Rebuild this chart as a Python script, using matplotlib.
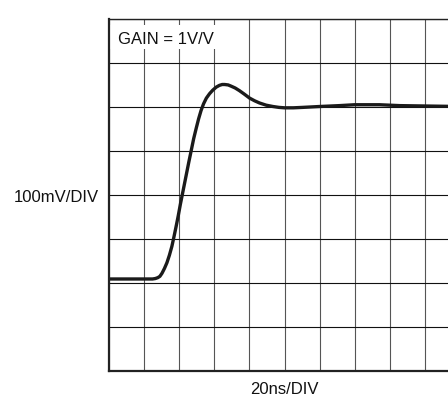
import matplotlib
matplotlib.use("Agg")
import matplotlib.pyplot as plt
from matplotlib.patches import Rectangle
from matplotlib import font_manager

names = {f.name for f in font_manager.fontManager.ttflist}
narrow = 'Liberation Sans Narrow' if 'Liberation Sans Narrow' in names else 'Liberation Sans'
plt.rcParams['font.family'] = [narrow, 'DejaVu Sans']
fsize = 14.3 if narrow == 'Liberation Sans Narrow' else 12

# time in divisions (20ns/DIV), voltage in divisions (100mV/DIV) from bottom
t_div = [0.0, 1.25, 1.33, 1.40, 1.46, 1.52, 1.59, 1.66, 1.73, 1.80, 1.86,
         1.92, 1.98, 2.04, 2.12, 2.21, 2.28, 2.35, 2.42, 2.49, 2.56, 2.63,
         2.70, 2.78, 2.87, 2.96, 3.06, 3.15, 3.23, 3.30, 3.40, 3.49, 3.60,
         3.72, 3.86, 4.01, 4.15, 4.29, 4.48, 4.67, 4.84, 5.00, 5.25, 5.52,
         6.00, 6.56, 6.99, 7.70, 8.27, 9.12, 9.97]
v_div = [2.08, 2.08, 2.09, 2.11, 2.14, 2.21, 2.32, 2.45, 2.62, 2.82, 3.04,
         3.27, 3.51, 3.77, 4.09, 4.45, 4.73, 5.00, 5.27, 5.50, 5.72, 5.91,
         6.06, 6.19, 6.29, 6.37, 6.44, 6.48, 6.50, 6.50, 6.49, 6.46, 6.42,
         6.36, 6.28, 6.19, 6.13, 6.08, 6.03, 6.00, 5.98, 5.97, 5.97, 5.98,
         6.00, 6.02, 6.04, 6.04, 6.02, 6.01, 6.00]

n_xdiv = 10
n_ydiv = 8
gain_label = "GAIN = 1V/V"
y_label = "100mV/DIV"
x_label = "20ns/DIV"

W, H = 448, 397
fig = plt.figure(figsize=(W / 100, H / 100), dpi=100)
left, right, top, bottom = 108.5, 460.5, 18.5, 370.5
ax = fig.add_axes([left / W, 1 - bottom / H, (right - left) / W, (bottom - top) / H])
ax.set_xlim(0, n_xdiv)
ax.set_ylim(0, n_ydiv)
ax.set_xticks(range(n_xdiv + 1))
ax.set_yticks(range(n_ydiv + 1))
ax.tick_params(length=0, labelbottom=False, labelleft=False)
ax.set_axisbelow(True)
ax.xaxis.grid(True, color='#555555', lw=0.8)
ax.yaxis.grid(True, color='#111111', lw=0.8)
ax.spines['left'].set_linewidth(1.6)
ax.spines['bottom'].set_linewidth(1.6)
ax.spines['top'].set_linewidth(1.0)
for s in ax.spines.values():
    s.set_color('#222222')

ax.add_patch(Rectangle((0, 7.31), 3.2, 0.54, facecolor='white', edgecolor='none', zorder=1))
ax.text(0.26, 7.43, gain_label, fontsize=fsize, ha='left', va='baseline', zorder=3, color='#111111')

ax.plot(t_div, v_div, color='#1a1a1a', lw=2.4, solid_capstyle='round',
        solid_joinstyle='round', zorder=2, clip_on=True)

fig.text(99 / W, 1 - 201.5 / H, y_label, fontsize=fsize, ha='right', va='baseline', color='#111111')
fig.text(284 / W, 1 - 394.5 / H, x_label, fontsize=fsize, ha='center', va='baseline', color='#111111')

fig.savefig('out.png', dpi=100)
